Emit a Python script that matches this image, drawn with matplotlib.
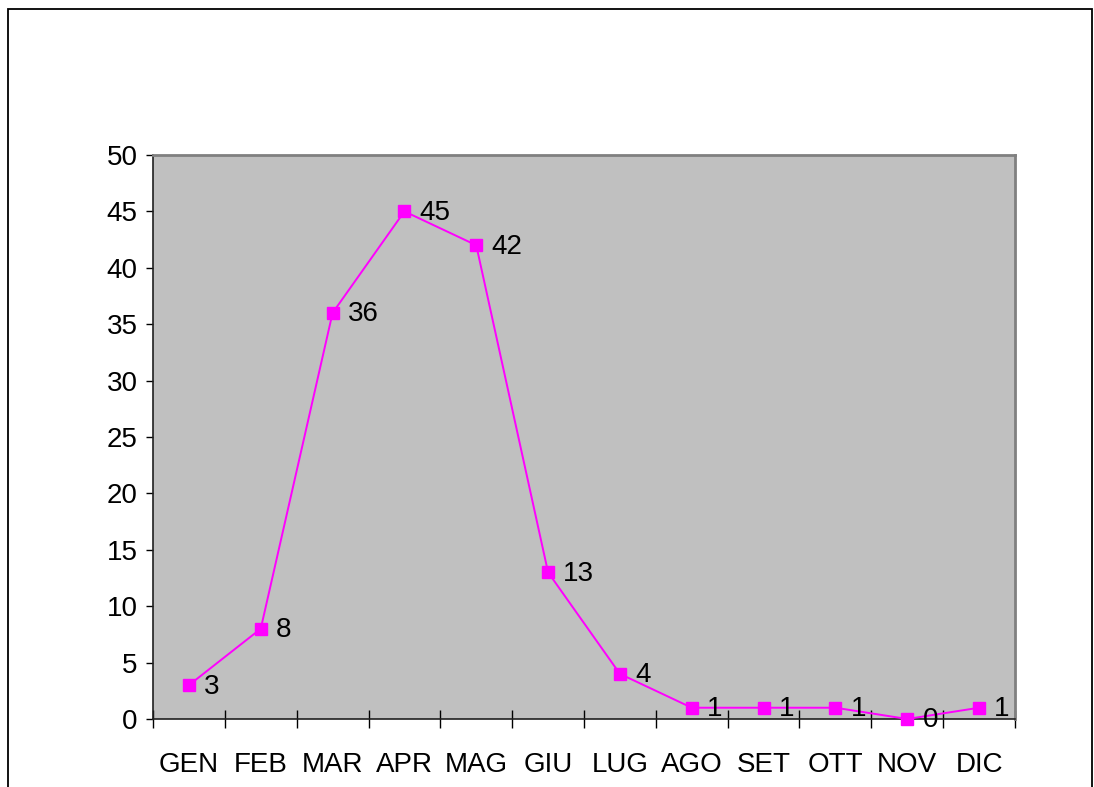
import matplotlib.pyplot as plt
from matplotlib.patches import Rectangle

mesi = ["GEN", "FEB", "MAR", "APR", "MAG", "GIU", "LUG", "AGO", "SET", "OTT", "NOV", "DIC"]
valori = [3, 8, 36, 45, 42, 13, 4, 1, 1, 1, 0, 1]
tick_y = [0, 5, 10, 15, 20, 25, 30, 35, 40, 45, 50]

plt.rcParams["font.family"] = ["Liberation Sans", "DejaVu Sans"]

fig = plt.figure(figsize=(10.94, 7.87), dpi=100)
ax = fig.add_axes([153 / 1094, 1 - 719 / 787, 862 / 1094, 564 / 787])
ax.set_facecolor("#C0C0C0")

# cornice esterna del grafico
fig.patches.append(Rectangle((8 / 1094, -0.02), 1084 / 1094, 778 / 787 + 0.02,
                             transform=fig.transFigure, fill=False,
                             edgecolor="black", linewidth=1.3))

x = list(range(len(mesi)))
ax.plot(x, valori, color="#FF00FF", linewidth=1.4, marker="s",
        markersize=8, markerfacecolor="#FF00FF", markeredgecolor="#FF00FF",
        clip_on=False, zorder=3)

for xi, v in zip(x, valori):
    ax.annotate(str(v), (xi, v), xytext=(11, -1), textcoords="offset points",
                va="center", ha="left", fontsize=20, color="black")

ax.set_xlim(-0.5, len(mesi) - 0.5)
ax.set_ylim(0, 50)
ax.set_yticks(tick_y)
ax.tick_params(axis="y", direction="out", length=5, width=1, labelsize=20, pad=6)

ax.set_xticks(x)
ax.set_xticklabels(mesi)
ax.set_xticks([i - 0.5 for i in range(len(mesi) + 1)], minor=True)
ax.tick_params(axis="x", which="major", length=0, labelsize=20, pad=24)
ax.tick_params(axis="x", which="minor", direction="inout", length=13, width=1)

for lato in ["left", "bottom"]:
    ax.spines[lato].set_color("#202020")
    ax.spines[lato].set_linewidth(1.2)
for lato in ["top", "right"]:
    ax.spines[lato].set_color("#808080")
    ax.spines[lato].set_linewidth(2)

plt.savefig("out.png", dpi=100)
